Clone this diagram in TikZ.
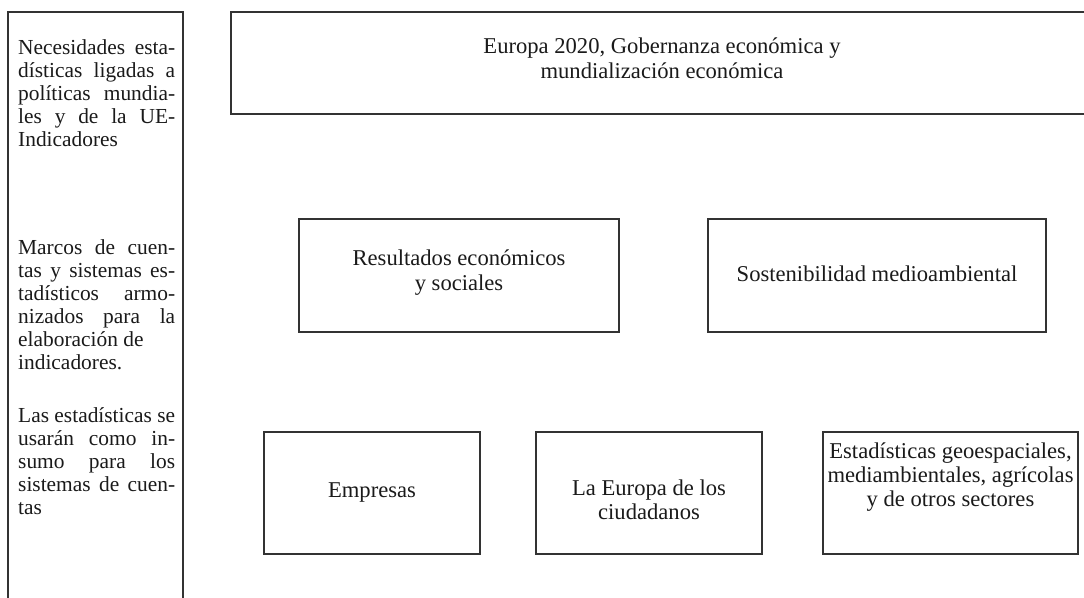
\documentclass[tikz,border=0pt]{standalone}
\usepackage{fontspec}
\setmainfont{Liberation Serif}
\definecolor{linec}{HTML}{333333}
\definecolor{txtc}{HTML}{1a1a1a}
\newcommand\bodyfont{\fontsize{22.6pt}{24pt}\selectfont}
\newcommand\leftfont{\fontsize{21.4pt}{23pt}\selectfont}
\newcommand\jline[1]{\makebox[157pt][s]{#1}}
\newcommand\rline[1]{\makebox[157pt][l]{#1}}
\begin{document}
\begin{tikzpicture}[x=1pt,y=-1pt,
  box/.style={draw=linec, line width=1.8pt, inner sep=0pt, outer sep=0pt, rectangle},
  ltxt/.style={anchor=base west, inner sep=0pt, font=\leftfont, text=txtc},
  ctxt/.style={anchor=base, inner sep=0pt, font=\bodyfont, text=txtc}]
\path[use as bounding box, clip] (0,0) rectangle (1084,597);
\fill[white] (0,0) rectangle (1084,597);
% boxes
\node[box, anchor=north west, minimum width=175pt, minimum height=620pt] (left) at (8,12) {};
\node[box, anchor=north west, minimum width=870pt, minimum height=102pt] (top) at (231,12) {};
\node[box, anchor=north west, minimum width=320pt, minimum height=113pt] (res) at (299,219) {};
\node[box, anchor=north west, minimum width=338pt, minimum height=113pt] (sos) at (708,219) {};
\node[box, anchor=north west, minimum width=216pt, minimum height=122pt] (emp) at (264,432) {};
\node[box, anchor=north west, minimum width=226pt, minimum height=122pt] (ciu) at (536,432) {};
\node[box, anchor=north west, minimum width=255pt, minimum height=122pt] (geo) at (823,432) {};
% left column text
\foreach \t [count=\i from 0] in {{Necesidades esta-},{dísticas ligadas a},{políticas mundia-},{les y de la UE-}}
  \node[ltxt] (pa\i) at (18,54+23*\i) {\jline{\t}};
\node[ltxt] (pa4) at (18,146) {\rline{Indicadores}};
\foreach \t [count=\i from 0] in {{Marcos de cuen-},{tas y sistemas es-},{tadísticos armo-},{nizados para la}}
  \node[ltxt] (pb\i) at (18,254+23*\i) {\jline{\t}};
\node[ltxt] (pb4) at (18,346) {\rline{elaboración de}};
\node[ltxt] (pb5) at (18,369) {\rline{indicadores.}};
\foreach \t [count=\i from 0] in {{Las estadísticas se},{usarán como in-},{sumo para los},{sistemas de cuen-}}
  \node[ltxt] (pc\i) at (18,422+23*\i) {\jline{\t}};
\node[ltxt] (pc4) at (18,514) {\rline{tas}};
% box text
\node[ctxt] (top1) at (662,53) {Europa 2020, Gobernanza económica y};
\node[ctxt] (top2) at (662,78) {mundialización económica};
\node[ctxt] (res1) at (459,265) {Resultados económicos};
\node[ctxt] (res2) at (459,290) {y sociales};
\node[ctxt] (sos1) at (877,281) {Sostenibilidad medioambiental};
\node[ctxt] (emp1) at (372,497) {Empresas};
\node[ctxt] (ciu1) at (649,495) {La Europa de los};
\node[ctxt] (ciu2) at (649,519) {ciudadanos};
\node[ctxt] (geo1) at (950.5,458) {Estadísticas geoespaciales,};
\node[ctxt] (geo2) at (950.5,482) {mediambientales, agrícolas};
\node[ctxt] (geo3) at (950.5,506) {y de otros sectores};
\end{tikzpicture}
\end{document}
